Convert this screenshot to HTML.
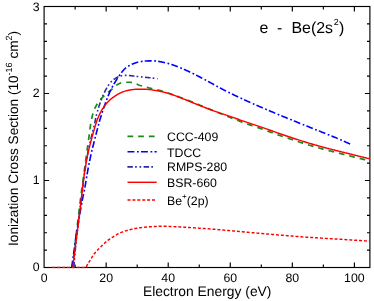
<!DOCTYPE html>
<html><head><meta charset="utf-8"><title>e - Be(2s2) ionization</title>
<style>html,body{margin:0;padding:0;overflow:hidden;background:#fff;font-family:"Liberation Sans",sans-serif}svg{display:block;will-change:transform}</style></head>
<body>
<svg width="374" height="301" viewBox="0 0 374 301">
<rect width="374" height="301" fill="#fff"/>
<g stroke="#000" stroke-width="1.15" fill="none">
<rect x="44.10" y="6.50" width="325.80" height="261.00"/>
<path d="M75.13,267.50 v-2.9 M75.13,6.50 v2.9"/>
<path d="M106.16,267.50 v-5.0 M106.16,6.50 v5.0"/>
<path d="M137.19,267.50 v-2.9 M137.19,6.50 v2.9"/>
<path d="M168.21,267.50 v-5.0 M168.21,6.50 v5.0"/>
<path d="M199.24,267.50 v-2.9 M199.24,6.50 v2.9"/>
<path d="M230.27,267.50 v-5.0 M230.27,6.50 v5.0"/>
<path d="M261.30,267.50 v-2.9 M261.30,6.50 v2.9"/>
<path d="M292.33,267.50 v-5.0 M292.33,6.50 v5.0"/>
<path d="M323.36,267.50 v-2.9 M323.36,6.50 v2.9"/>
<path d="M354.39,267.50 v-5.0 M354.39,6.50 v5.0"/>
<path d="M44.10,250.10 h2.9 M369.90,250.10 h-2.9"/>
<path d="M44.10,232.70 h2.9 M369.90,232.70 h-2.9"/>
<path d="M44.10,215.30 h2.9 M369.90,215.30 h-2.9"/>
<path d="M44.10,197.90 h2.9 M369.90,197.90 h-2.9"/>
<path d="M44.10,180.50 h5.0 M369.90,180.50 h-5.0"/>
<path d="M44.10,163.10 h2.9 M369.90,163.10 h-2.9"/>
<path d="M44.10,145.70 h2.9 M369.90,145.70 h-2.9"/>
<path d="M44.10,128.30 h2.9 M369.90,128.30 h-2.9"/>
<path d="M44.10,110.90 h2.9 M369.90,110.90 h-2.9"/>
<path d="M44.10,93.50 h5.0 M369.90,93.50 h-5.0"/>
<path d="M44.10,76.10 h2.9 M369.90,76.10 h-2.9"/>
<path d="M44.10,58.70 h2.9 M369.90,58.70 h-2.9"/>
<path d="M44.10,41.30 h2.9 M369.90,41.30 h-2.9"/>
<path d="M44.10,23.90 h2.9 M369.90,23.90 h-2.9"/>
</g>
<clipPath id="c"><rect x="44.50" y="6.80" width="325.50" height="261.70"/></clipPath>
<g clip-path="url(#c)" fill="none" stroke-linejoin="round">
<path d="M72.40,267.50 73.15,260.93 73.89,254.40 74.64,247.94 75.38,241.55 76.13,235.21 76.88,228.89 77.62,222.61 78.37,216.40 79.11,210.29 79.86,204.29 80.60,198.42 81.35,192.68 82.10,187.05 82.84,181.49 83.59,175.98 84.33,170.50 85.08,165.01 85.83,159.54 86.57,154.12 87.32,148.70 88.06,143.30 88.81,137.86 89.55,132.19 90.30,126.55 91.05,121.91 91.79,117.97 92.54,115.03 93.28,112.55 94.03,110.41 94.78,108.56 95.52,106.98 96.27,105.56 97.01,104.28 97.76,103.10 98.51,102.02 99.25,101.02 100.00,100.08 100.74,99.19 101.49,98.36 102.23,97.58 102.98,96.85 103.73,96.15 104.47,95.48 105.22,94.82 105.96,94.17 106.71,93.52 107.46,92.87 108.20,92.25 108.95,91.64 109.69,91.04 110.44,90.44 111.18,89.84 111.93,89.22 112.68,88.57 113.42,87.86 114.17,87.14 114.91,86.42 115.66,85.75 116.41,85.16 117.15,84.68 117.90,84.30 118.64,83.93 119.39,83.57 120.14,83.23 120.88,82.93 121.63,82.67 122.37,82.46 123.12,82.31 123.86,82.24 124.61,82.23 125.36,82.23 126.10,82.23 126.85,82.23 127.59,82.23 128.34,82.23 129.09,82.23 129.83,82.24 130.58,82.31 131.32,82.43 132.07,82.59 132.82,82.77 133.56,82.96 134.31,83.15 135.05,83.40 135.80,83.69 136.54,84.01 137.29,84.35 138.04,84.68 138.78,85.00 139.53,85.29 140.27,85.54 141.02,85.77 141.77,86.00 142.51,86.22 143.26,86.43 144.00,86.63 144.75,86.83 145.49,87.02 146.24,87.22 146.99,87.40 147.73,87.59 148.48,87.78 149.22,87.97 149.97,88.16 150.72,88.34 151.46,88.52 152.21,88.70 152.95,88.87 153.70,89.04 154.45,89.20 155.19,89.37 155.94,89.53 156.68,89.70 157.43,89.87 158.17,90.04 158.92,90.22 159.67,90.40 160.41,90.58 161.16,90.78 161.90,90.98 162.65,91.19 163.40,91.42 164.14,91.66 164.89,91.91 165.63,92.17 166.38,92.43 167.12,92.70 167.87,92.96 168.62,93.22 169.36,93.48 170.11,93.74 170.85,93.99 171.60,94.25 172.35,94.51 173.09,94.78 173.84,95.04 174.58,95.30 175.33,95.57 176.08,95.83 176.82,96.10 177.57,96.36 178.31,96.63 179.06,96.90 179.80,97.18 180.55,97.45 181.30,97.73 182.04,98.00 182.79,98.28 183.53,98.56 184.28,98.85 185.03,99.13 185.77,99.42 186.52,99.71 187.26,100.01 188.01,100.30 188.75,100.60 189.50,100.90 190.25,101.20 190.99,101.51 191.74,101.81 192.48,102.12 193.23,102.42 193.98,102.73 194.72,103.04 195.47,103.34 196.21,103.65 196.96,103.96 197.71,104.26 198.45,104.57 199.20,104.87 199.94,105.18 200.69,105.48 201.43,105.79 202.18,106.09 202.93,106.40 203.67,106.70 204.42,107.01 205.16,107.31 205.91,107.62 206.66,107.92 207.40,108.23 208.15,108.54 208.89,108.84 209.64,109.15 210.38,109.46 211.13,109.76 211.88,110.07 212.62,110.37 213.37,110.68 214.11,110.98 214.86,111.28 215.61,111.59 216.35,111.89 217.10,112.19 217.84,112.50 218.59,112.80 219.34,113.11 220.08,113.41 220.83,113.71 221.57,114.02 222.32,114.32 223.06,114.62 223.81,114.93 224.56,115.23 225.30,115.53 226.05,115.83 226.79,116.13 227.54,116.43 228.29,116.72 229.03,117.02 229.78,117.31 230.52,117.61 231.27,117.90 232.02,118.19 232.76,118.48 233.51,118.77 234.25,119.07 235.00,119.36 235.74,119.65 236.49,119.94 237.24,120.22 237.98,120.51 238.73,120.80 239.47,121.08 240.22,121.36 240.97,121.65 241.71,121.93 242.46,122.21 243.20,122.48 243.95,122.76 244.69,123.03 245.44,123.30 246.19,123.57 246.93,123.84 247.68,124.10 248.42,124.37 249.17,124.62 249.92,124.88 250.66,125.13 251.41,125.39 252.15,125.64 252.90,125.89 253.65,126.14 254.39,126.39 255.14,126.64 255.88,126.89 256.63,127.14 257.37,127.39 258.12,127.64 258.87,127.90 259.61,128.15 260.36,128.41 261.10,128.67 261.85,128.93 262.60,129.19 263.34,129.46 264.09,129.73 264.83,129.99 265.58,130.26 266.32,130.53 267.07,130.81 267.82,131.08 268.56,131.35 269.31,131.63 270.05,131.90 270.80,132.18 271.55,132.45 272.29,132.73 273.04,133.01 273.78,133.28 274.53,133.56 275.28,133.83 276.02,134.11 276.77,134.38 277.51,134.65 278.26,134.93 279.00,135.20 279.75,135.47 280.50,135.74 281.24,136.00 281.99,136.27 282.73,136.53 283.48,136.79 284.23,137.05 284.97,137.31 285.72,137.56 286.46,137.81 287.21,138.06 287.95,138.31 288.70,138.56 289.45,138.81 290.19,139.06 290.94,139.31 291.68,139.56 292.43,139.80 293.18,140.05 293.92,140.29 294.67,140.54 295.41,140.78 296.16,141.02 296.91,141.26 297.65,141.50 298.40,141.74 299.14,141.98 299.89,142.22 300.63,142.46 301.38,142.70 302.13,142.93 302.87,143.17 303.62,143.40 304.36,143.63 305.11,143.86 305.86,144.09 306.60,144.32 307.35,144.55 308.09,144.78 308.84,145.01 309.58,145.23 310.33,145.46 311.08,145.68 311.82,145.90 312.57,146.12 313.31,146.34 314.06,146.56 314.81,146.78 315.55,146.99 316.30,147.21 317.04,147.42 317.79,147.63 318.54,147.84 319.28,148.05 320.03,148.26 320.77,148.46 321.52,148.67 322.26,148.87 323.01,149.07 323.76,149.27 324.50,149.47 325.25,149.67 325.99,149.87 326.74,150.07 327.49,150.26 328.23,150.46 328.98,150.65 329.72,150.85 330.47,151.04 331.22,151.23 331.96,151.42 332.71,151.61 333.45,151.80 334.20,151.99 334.94,152.18 335.69,152.37 336.44,152.56 337.18,152.75 337.93,152.93 338.67,153.12 339.42,153.31 340.17,153.50 340.91,153.68 341.66,153.87 342.40,154.06 343.15,154.24 343.89,154.43 344.64,154.62 345.39,154.80 346.13,154.99 346.88,155.18 347.62,155.37 348.37,155.55 349.12,155.74 349.86,155.93 350.61,156.12 351.35,156.31 352.10,156.50 352.85,156.69 353.59,156.88 354.34,157.06 355.08,157.25 355.83,157.44 356.57,157.63 357.32,157.81 358.07,158.00 358.81,158.19 359.56,158.37 360.30,158.56 361.05,158.75 361.80,158.93 362.54,159.12 363.29,159.30 364.03,159.49 364.78,159.67 365.52,159.86 366.27,160.04 367.02,160.23 367.76,160.41 368.51,160.59 369.25,160.78 370.00,160.96" stroke="#1a8a1a" stroke-width="1.7" stroke-dasharray="5.7 5"/>
<path d="M71.62,267.50 72.32,262.85 73.02,258.04 73.72,253.08 74.42,248.00 75.12,242.68 75.82,237.21 76.52,232.64 77.22,228.53 77.92,224.66 78.62,220.81 79.32,216.84 80.02,212.86 80.72,208.90 81.42,205.03 82.12,201.26 82.82,197.67 83.52,194.31 84.22,190.95 84.92,187.35 85.62,183.33 86.32,179.07 87.02,174.79 87.72,170.74 88.42,167.01 89.12,163.44 89.82,160.01 90.52,156.72 91.21,153.58 91.91,150.63 92.61,147.80 93.31,145.04 94.01,142.27 94.71,139.48 95.41,136.70 96.11,133.95 96.81,131.24 97.51,128.59 98.21,125.95 98.91,123.35 99.61,120.83 100.31,118.43 101.01,116.16 101.71,113.98 102.41,111.87 103.11,109.80 103.81,107.75 104.51,105.71 105.21,103.70 105.91,101.74 106.61,99.85 107.31,98.04 108.01,96.29 108.71,94.60 109.41,92.98 110.11,91.44 110.80,89.97 111.50,88.57 112.20,87.22 112.90,85.92 113.60,84.66 114.30,83.44 115.00,82.27 115.70,81.13 116.40,80.02 117.10,78.92 117.80,77.84 118.50,76.79 119.20,75.78 119.90,74.80 120.60,73.86 121.30,72.94 122.00,72.01 122.70,71.11 123.40,70.26 124.10,69.47 124.80,68.76 125.50,68.17 126.20,67.64 126.90,67.14 127.60,66.67 128.30,66.22 129.00,65.80 129.69,65.41 130.39,65.03 131.09,64.69 131.79,64.36 132.49,64.05 133.19,63.77 133.89,63.50 134.59,63.25 135.29,63.01 135.99,62.78 136.69,62.56 137.39,62.35 138.09,62.16 138.79,61.99 139.49,61.84 140.19,61.70 140.89,61.59 141.59,61.48 142.29,61.37 142.99,61.27 143.69,61.18 144.39,61.10 145.09,61.04 145.79,60.98 146.49,60.95 147.19,60.93 147.89,60.91 148.59,60.90 149.28,60.89 149.98,60.87 150.68,60.87 151.38,60.86 152.08,60.85 152.78,60.85 153.48,60.86 154.18,60.88 154.88,60.92 155.58,60.98 156.28,61.05 156.98,61.13 157.68,61.23 158.38,61.34 159.08,61.46 159.78,61.59 160.48,61.72 161.18,61.86 161.88,62.01 162.58,62.16 163.28,62.31 163.98,62.46 164.68,62.61 165.38,62.76 166.08,62.91 166.78,63.08 167.48,63.25 168.17,63.44 168.87,63.63 169.57,63.84 170.27,64.06 170.97,64.28 171.67,64.51 172.37,64.75 173.07,65.00 173.77,65.25 174.47,65.51 175.17,65.78 175.87,66.05 176.57,66.33 177.27,66.61 177.97,66.89 178.67,67.18 179.37,67.47 180.07,67.76 180.77,68.05 181.47,68.35 182.17,68.64 182.87,68.94 183.57,69.23 184.27,69.53 184.97,69.82 185.67,70.11 186.37,70.41 187.07,70.72 187.76,71.03 188.46,71.35 189.16,71.68 189.86,72.00 190.56,72.34 191.26,72.67 191.96,73.01 192.66,73.36 193.36,73.71 194.06,74.06 194.76,74.41 195.46,74.77 196.16,75.12 196.86,75.48 197.56,75.85 198.26,76.21 198.96,76.57 199.66,76.94 200.36,77.30 201.06,77.67 201.76,78.03 202.46,78.40 203.16,78.76 203.86,79.12 204.56,79.48 205.26,79.85 205.96,80.22 206.65,80.59 207.35,80.97 208.05,81.35 208.75,81.73 209.45,82.11 210.15,82.50 210.85,82.88 211.55,83.27 212.25,83.66 212.95,84.05 213.65,84.44 214.35,84.83 215.05,85.22 215.75,85.61 216.45,85.99 217.15,86.38 217.85,86.76 218.55,87.15 219.25,87.53 219.95,87.90 220.65,88.28 221.35,88.65 222.05,89.02 222.75,89.38 223.45,89.74 224.15,90.10 224.85,90.45 225.55,90.81 226.24,91.16 226.94,91.51 227.64,91.86 228.34,92.20 229.04,92.55 229.74,92.89 230.44,93.24 231.14,93.58 231.84,93.92 232.54,94.26 233.24,94.59 233.94,94.93 234.64,95.27 235.34,95.60 236.04,95.93 236.74,96.26 237.44,96.59 238.14,96.92 238.84,97.25 239.54,97.58 240.24,97.91 240.94,98.23 241.64,98.56 242.34,98.88 243.04,99.21 243.74,99.53 244.44,99.85 245.13,100.17 245.83,100.49 246.53,100.80 247.23,101.12 247.93,101.43 248.63,101.75 249.33,102.06 250.03,102.37 250.73,102.68 251.43,102.99 252.13,103.30 252.83,103.61 253.53,103.92 254.23,104.22 254.93,104.53 255.63,104.83 256.33,105.14 257.03,105.44 257.73,105.75 258.43,106.05 259.13,106.36 259.83,106.66 260.53,106.96 261.23,107.26 261.93,107.57 262.63,107.87 263.33,108.17 264.03,108.47 264.72,108.77 265.42,109.07 266.12,109.37 266.82,109.66 267.52,109.96 268.22,110.26 268.92,110.56 269.62,110.85 270.32,111.15 271.02,111.44 271.72,111.74 272.42,112.03 273.12,112.33 273.82,112.62 274.52,112.92 275.22,113.21 275.92,113.50 276.62,113.80 277.32,114.09 278.02,114.38 278.72,114.67 279.42,114.96 280.12,115.25 280.82,115.55 281.52,115.84 282.22,116.13 282.92,116.42 283.61,116.70 284.31,116.99 285.01,117.28 285.71,117.57 286.41,117.86 287.11,118.15 287.81,118.43 288.51,118.72 289.21,119.00 289.91,119.29 290.61,119.57 291.31,119.86 292.01,120.14 292.71,120.42 293.41,120.71 294.11,120.99 294.81,121.27 295.51,121.55 296.21,121.83 296.91,122.11 297.61,122.39 298.31,122.67 299.01,122.95 299.71,123.23 300.41,123.51 301.11,123.79 301.81,124.07 302.51,124.35 303.20,124.63 303.90,124.91 304.60,125.18 305.30,125.46 306.00,125.74 306.70,126.02 307.40,126.30 308.10,126.58 308.80,126.86 309.50,127.13 310.20,127.41 310.90,127.69 311.60,127.97 312.30,128.25 313.00,128.53 313.70,128.81 314.40,129.09 315.10,129.37 315.80,129.65 316.50,129.93 317.20,130.22 317.90,130.50 318.60,130.78 319.30,131.06 320.00,131.34 320.70,131.62 321.40,131.90 322.09,132.18 322.79,132.46 323.49,132.74 324.19,133.02 324.89,133.30 325.59,133.58 326.29,133.85 326.99,134.13 327.69,134.41 328.39,134.69 329.09,134.97 329.79,135.25 330.49,135.54 331.19,135.82 331.89,136.10 332.59,136.39 333.29,136.67 333.99,136.96 334.69,137.25 335.39,137.54 336.09,137.83 336.79,138.12 337.49,138.42 338.19,138.71 338.89,139.01 339.59,139.31 340.29,139.62 340.99,139.92 341.68,140.23 342.38,140.54 343.08,140.85 343.78,141.16 344.48,141.47 345.18,141.79 345.88,142.11 346.58,142.43 347.28,142.75 347.98,143.07 348.68,143.39 349.38,143.71 350.08,144.04 350.78,144.36" stroke="#0000ff" stroke-width="1.6" stroke-dasharray="6.9 2.6 1.8 2.2"/>
<path d="M73.80,267.50 74.01,264.86 74.22,262.26 74.43,259.72 74.64,257.25 74.85,254.85 75.06,252.50 75.27,250.18 75.48,247.90 75.69,245.67 75.90,243.50 76.11,241.42 76.32,239.42 76.53,237.53 76.74,235.73 76.95,234.02 77.16,232.37 77.37,230.77 77.58,229.20 77.79,227.65 78.00,226.09 78.21,224.50 78.42,222.88 78.63,221.21 78.84,219.50 79.05,217.76 79.26,216.00 79.47,214.23 79.68,212.44 79.89,210.65 80.10,208.85 80.31,207.05 80.52,205.25 80.73,203.46 80.94,201.68 81.15,199.91 81.36,198.16 81.57,196.42 81.78,194.71 81.99,193.00 82.20,191.27 82.41,189.54 82.62,187.82 82.83,186.09 83.04,184.38 83.25,182.68 83.46,181.00 83.67,179.35 83.88,177.72 84.09,176.12 84.30,174.56 84.51,173.04 84.72,171.57 84.93,170.13 85.14,168.72 85.35,167.33 85.56,165.97 85.77,164.62 85.98,163.30 86.19,162.00 86.40,160.72 86.61,159.47 86.83,158.24 87.04,157.03 87.25,155.86 87.46,154.70 87.67,153.58 87.88,152.48 88.09,151.41 88.30,150.37 88.51,149.36 88.72,148.37 88.93,147.40 89.14,146.45 89.35,145.52 89.56,144.60 89.77,143.69 89.98,142.79 90.19,141.90 90.40,141.01 90.61,140.12 90.82,139.23 91.03,138.33 91.24,137.45 91.45,136.58 91.66,135.72 91.87,134.87 92.08,134.03 92.29,133.19 92.50,132.36 92.71,131.52 92.92,130.69 93.13,129.85 93.34,129.00 93.55,128.15 93.76,127.28 93.97,126.40 94.18,125.51 94.39,124.58 94.60,123.62 94.81,122.65 95.02,121.66 95.23,120.67 95.44,119.68 95.65,118.70 95.86,117.73 96.07,116.78 96.28,115.87 96.49,114.99 96.70,114.16 96.91,113.36 97.12,112.59 97.33,111.82 97.54,111.08 97.75,110.35 97.96,109.63 98.17,108.93 98.38,108.24 98.59,107.57 98.80,106.90 99.01,106.25 99.22,105.61 99.43,104.98 99.65,104.35 99.86,103.74 100.07,103.13 100.28,102.53 100.49,101.93 100.70,101.34 100.91,100.76 101.12,100.19 101.33,99.63 101.54,99.07 101.75,98.52 101.96,97.99 102.17,97.46 102.38,96.94 102.59,96.43 102.80,95.93 103.01,95.45 103.22,94.97 103.43,94.51 103.64,94.05 103.85,93.60 104.06,93.16 104.27,92.72 104.48,92.29 104.69,91.87 104.90,91.45 105.11,91.04 105.32,90.63 105.53,90.23 105.74,89.83 105.95,89.45 106.16,89.06 106.37,88.69 106.58,88.31 106.79,87.95 107.00,87.59 107.21,87.23 107.42,86.89 107.63,86.54 107.84,86.21 108.05,85.88 108.26,85.55 108.47,85.23 108.68,84.90 108.89,84.59 109.10,84.28 109.31,83.97 109.52,83.68 109.73,83.39 109.94,83.11 110.15,82.84 110.36,82.59 110.57,82.34 110.78,82.11 110.99,81.90 111.20,81.68 111.41,81.48 111.62,81.28 111.83,81.08 112.04,80.89 112.25,80.70 112.46,80.52 112.68,80.35 112.89,80.18 113.10,80.01 113.31,79.85 113.52,79.69 113.73,79.53 113.94,79.38 114.15,79.23 114.36,79.09 114.57,78.95 114.78,78.81 114.99,78.68 115.20,78.54 115.41,78.41 115.62,78.27 115.83,78.14 116.04,78.00 116.25,77.87 116.46,77.73 116.67,77.60 116.88,77.47 117.09,77.35 117.30,77.22 117.51,77.10 117.72,76.99 117.93,76.88 118.14,76.77 118.35,76.67 118.56,76.57 118.77,76.48 118.98,76.39 119.19,76.32 119.40,76.25 119.61,76.18 119.82,76.13 120.03,76.08 120.24,76.04 120.45,76.00 120.66,75.97 120.87,75.93 121.08,75.90 121.29,75.86 121.50,75.83 121.71,75.79 121.92,75.76 122.13,75.73 122.34,75.70 122.55,75.67 122.76,75.64 122.97,75.62 123.18,75.59 123.39,75.56 123.60,75.54 123.81,75.52 124.02,75.50 124.23,75.48 124.44,75.46 124.65,75.44 124.86,75.43 125.07,75.41 125.28,75.40 125.50,75.39 125.71,75.38 125.92,75.38 126.13,75.37 126.34,75.37 126.55,75.36 126.76,75.36 126.97,75.37 127.18,75.37 127.39,75.38 127.60,75.39 127.81,75.40 128.02,75.41 128.23,75.42 128.44,75.44 128.65,75.45 128.86,75.47 129.07,75.49 129.28,75.51 129.49,75.54 129.70,75.56 129.91,75.58 130.12,75.61 130.33,75.63 130.54,75.66 130.75,75.68 130.96,75.71 131.17,75.74 131.38,75.76 131.59,75.79 131.80,75.82 132.01,75.85 132.22,75.87 132.43,75.90 132.64,75.93 132.85,75.95 133.06,75.98 133.27,76.00 133.48,76.03 133.69,76.05 133.90,76.07 134.11,76.09 134.32,76.12 134.53,76.14 134.74,76.16 134.95,76.19 135.16,76.21 135.37,76.23 135.58,76.26 135.79,76.28 136.00,76.31 136.21,76.33 136.42,76.36 136.63,76.38 136.84,76.41 137.05,76.43 137.26,76.46 137.47,76.48 137.68,76.51 137.89,76.53 138.10,76.55 138.32,76.58 138.53,76.60 138.74,76.63 138.95,76.65 139.16,76.68 139.37,76.70 139.58,76.73 139.79,76.75 140.00,76.77 140.21,76.80 140.42,76.82 140.63,76.84 140.84,76.87 141.05,76.89 141.26,76.91 141.47,76.94 141.68,76.96 141.89,76.98 142.10,77.00 142.31,77.02 142.52,77.04 142.73,77.07 142.94,77.09 143.15,77.11 143.36,77.13 143.57,77.15 143.78,77.17 143.99,77.19 144.20,77.21 144.41,77.23 144.62,77.26 144.83,77.28 145.04,77.30 145.25,77.32 145.46,77.34 145.67,77.36 145.88,77.38 146.09,77.40 146.30,77.42 146.51,77.44 146.72,77.46 146.93,77.48 147.14,77.50 147.35,77.52 147.56,77.54 147.77,77.56 147.98,77.59 148.19,77.61 148.40,77.63 148.61,77.65 148.82,77.67 149.03,77.69 149.24,77.71 149.45,77.73 149.66,77.76 149.87,77.78 150.08,77.80 150.29,77.82 150.50,77.84 150.71,77.87 150.92,77.89 151.13,77.91 151.35,77.93 151.56,77.96 151.77,77.98 151.98,78.00 152.19,78.03 152.40,78.05 152.61,78.07 152.82,78.10 153.03,78.12 153.24,78.15 153.45,78.17 153.66,78.20 153.87,78.22 154.08,78.25 154.29,78.28 154.50,78.30 154.71,78.33 154.92,78.36 155.13,78.39 155.34,78.42 155.55,78.45 155.76,78.48 155.97,78.51 156.18,78.54 156.39,78.57 156.60,78.60 156.81,78.63 157.02,78.66 157.23,78.69 157.44,78.72 157.65,78.75" stroke="#2c2ca4" stroke-width="1.6" stroke-dasharray="5.5 2.2 1.7 2.7 1.7 2.4"/>
<path d="M72.87,267.50 73.61,261.26 74.35,255.10 75.10,249.01 75.84,243.03 76.59,237.21 77.33,231.45 78.08,225.62 78.82,219.62 79.57,213.38 80.31,207.02 81.06,200.70 81.80,194.55 82.55,188.39 83.29,182.26 84.04,176.44 84.78,171.17 85.52,166.46 86.27,162.09 87.01,158.05 87.76,154.33 88.50,150.93 89.25,147.83 89.99,144.91 90.74,142.06 91.48,139.22 92.23,136.42 92.97,133.71 93.72,131.08 94.46,128.54 95.21,126.03 95.95,123.61 96.70,121.35 97.44,119.31 98.18,117.44 98.93,115.69 99.67,114.08 100.42,112.59 101.16,111.22 101.91,109.94 102.65,108.74 103.40,107.61 104.14,106.52 104.89,105.48 105.63,104.50 106.38,103.58 107.12,102.72 107.87,101.92 108.61,101.17 109.36,100.45 110.10,99.76 110.84,99.10 111.59,98.47 112.33,97.88 113.08,97.33 113.82,96.80 114.57,96.29 115.31,95.79 116.06,95.32 116.80,94.86 117.55,94.43 118.29,94.02 119.04,93.63 119.78,93.26 120.53,92.90 121.27,92.55 122.02,92.22 122.76,91.90 123.50,91.61 124.25,91.35 124.99,91.12 125.74,90.92 126.48,90.73 127.23,90.54 127.97,90.38 128.72,90.22 129.46,90.08 130.21,89.95 130.95,89.84 131.70,89.74 132.44,89.63 133.19,89.53 133.93,89.44 134.68,89.35 135.42,89.28 136.16,89.22 136.91,89.19 137.65,89.18 138.40,89.18 139.14,89.19 139.89,89.19 140.63,89.20 141.38,89.22 142.12,89.23 142.87,89.25 143.61,89.26 144.36,89.28 145.10,89.30 145.85,89.32 146.59,89.35 147.33,89.38 148.08,89.42 148.82,89.49 149.57,89.56 150.31,89.65 151.06,89.75 151.80,89.86 152.55,89.98 153.29,90.10 154.04,90.22 154.78,90.35 155.53,90.48 156.27,90.60 157.02,90.73 157.76,90.86 158.51,91.01 159.25,91.15 159.99,91.31 160.74,91.47 161.48,91.64 162.23,91.81 162.97,91.98 163.72,92.17 164.46,92.35 165.21,92.54 165.95,92.74 166.70,92.94 167.44,93.14 168.19,93.35 168.93,93.56 169.68,93.78 170.42,94.02 171.17,94.26 171.91,94.51 172.65,94.77 173.40,95.03 174.14,95.31 174.89,95.58 175.63,95.87 176.38,96.16 177.12,96.45 177.87,96.74 178.61,97.04 179.36,97.33 180.10,97.63 180.85,97.93 181.59,98.23 182.34,98.52 183.08,98.82 183.83,99.11 184.57,99.40 185.31,99.69 186.06,99.98 186.80,100.28 187.55,100.58 188.29,100.88 189.04,101.18 189.78,101.48 190.53,101.79 191.27,102.10 192.02,102.40 192.76,102.71 193.51,103.01 194.25,103.32 195.00,103.62 195.74,103.93 196.49,104.23 197.23,104.53 197.97,104.83 198.72,105.12 199.46,105.42 200.21,105.71 200.95,106.00 201.70,106.29 202.44,106.59 203.19,106.88 203.93,107.17 204.68,107.46 205.42,107.75 206.17,108.04 206.91,108.32 207.66,108.61 208.40,108.89 209.14,109.18 209.89,109.46 210.63,109.74 211.38,110.02 212.12,110.29 212.87,110.57 213.61,110.84 214.36,111.11 215.10,111.38 215.85,111.64 216.59,111.90 217.34,112.16 218.08,112.41 218.83,112.67 219.57,112.92 220.32,113.17 221.06,113.41 221.80,113.66 222.55,113.91 223.29,114.15 224.04,114.40 224.78,114.64 225.53,114.89 226.27,115.13 227.02,115.38 227.76,115.63 228.51,115.88 229.25,116.13 230.00,116.38 230.74,116.64 231.49,116.90 232.23,117.16 232.98,117.42 233.72,117.68 234.46,117.94 235.21,118.21 235.95,118.48 236.70,118.74 237.44,119.01 238.19,119.28 238.93,119.54 239.68,119.81 240.42,120.07 241.17,120.34 241.91,120.60 242.66,120.87 243.40,121.13 244.15,121.39 244.89,121.65 245.64,121.90 246.38,122.16 247.12,122.41 247.87,122.66 248.61,122.91 249.36,123.16 250.10,123.40 250.85,123.65 251.59,123.89 252.34,124.13 253.08,124.38 253.83,124.62 254.57,124.86 255.32,125.10 256.06,125.35 256.81,125.59 257.55,125.84 258.30,126.08 259.04,126.33 259.78,126.58 260.53,126.83 261.27,127.08 262.02,127.33 262.76,127.59 263.51,127.85 264.25,128.11 265.00,128.37 265.74,128.63 266.49,128.90 267.23,129.16 267.98,129.43 268.72,129.70 269.47,129.97 270.21,130.24 270.95,130.51 271.70,130.78 272.44,131.05 273.19,131.32 273.93,131.59 274.68,131.86 275.42,132.12 276.17,132.39 276.91,132.66 277.66,132.93 278.40,133.20 279.15,133.46 279.89,133.73 280.64,133.99 281.38,134.25 282.13,134.51 282.87,134.77 283.61,135.03 284.36,135.28 285.10,135.53 285.85,135.78 286.59,136.03 287.34,136.28 288.08,136.52 288.83,136.77 289.57,137.02 290.32,137.26 291.06,137.50 291.81,137.75 292.55,137.99 293.30,138.23 294.04,138.48 294.79,138.72 295.53,138.96 296.27,139.20 297.02,139.44 297.76,139.67 298.51,139.91 299.25,140.15 300.00,140.38 300.74,140.62 301.49,140.85 302.23,141.09 302.98,141.32 303.72,141.55 304.47,141.78 305.21,142.01 305.96,142.24 306.70,142.47 307.45,142.69 308.19,142.92 308.93,143.14 309.68,143.37 310.42,143.59 311.17,143.81 311.91,144.03 312.66,144.25 313.40,144.46 314.15,144.68 314.89,144.89 315.64,145.11 316.38,145.32 317.13,145.53 317.87,145.74 318.62,145.95 319.36,146.15 320.11,146.36 320.85,146.56 321.59,146.76 322.34,146.97 323.08,147.17 323.83,147.37 324.57,147.56 325.32,147.76 326.06,147.96 326.81,148.15 327.55,148.34 328.30,148.54 329.04,148.73 329.79,148.92 330.53,149.11 331.28,149.30 332.02,149.49 332.77,149.68 333.51,149.87 334.25,150.05 335.00,150.24 335.74,150.43 336.49,150.61 337.23,150.80 337.98,150.98 338.72,151.17 339.47,151.35 340.21,151.54 340.96,151.72 341.70,151.91 342.45,152.09 343.19,152.28 343.94,152.46 344.68,152.65 345.42,152.83 346.17,153.01 346.91,153.20 347.66,153.38 348.40,153.57 349.15,153.76 349.89,153.94 350.64,154.13 351.38,154.31 352.13,154.50 352.87,154.69 353.62,154.87 354.36,155.06 355.11,155.24 355.85,155.42 356.60,155.61 357.34,155.79 358.08,155.97 358.83,156.16 359.57,156.34 360.32,156.52 361.06,156.71 361.81,156.89 362.55,157.07 363.30,157.25 364.04,157.43 364.79,157.61 365.53,157.79 366.28,157.97 367.02,158.16 367.77,158.34 368.51,158.52 369.26,158.70 370.00,158.88" stroke="#ff0000" stroke-width="1.45"/>
<path d="M52.25,267.50 L85.73,267.50 86.44,266.32 87.15,265.15 87.87,263.98 88.58,262.83 89.29,261.67 90.00,260.51 90.72,259.31 91.43,258.12 92.14,256.94 92.85,255.81 93.57,254.75 94.28,253.80 94.99,252.92 95.70,252.09 96.42,251.30 97.13,250.54 97.84,249.80 98.55,249.09 99.27,248.38 99.98,247.66 100.69,246.94 101.40,246.22 102.12,245.50 102.83,244.79 103.54,244.09 104.25,243.41 104.97,242.75 105.68,242.12 106.39,241.52 107.10,240.95 107.82,240.41 108.53,239.88 109.24,239.38 109.95,238.89 110.67,238.41 111.38,237.94 112.09,237.48 112.80,237.02 113.52,236.56 114.23,236.10 114.94,235.65 115.65,235.20 116.37,234.77 117.08,234.36 117.79,233.98 118.50,233.62 119.22,233.29 119.93,232.98 120.64,232.68 121.35,232.40 122.07,232.12 122.78,231.85 123.49,231.59 124.20,231.35 124.92,231.11 125.63,230.88 126.34,230.66 127.05,230.45 127.76,230.25 128.48,230.06 129.19,229.87 129.90,229.69 130.61,229.51 131.33,229.34 132.04,229.18 132.75,229.02 133.46,228.86 134.18,228.72 134.89,228.58 135.60,228.45 136.31,228.32 137.03,228.21 137.74,228.10 138.45,227.99 139.16,227.89 139.88,227.79 140.59,227.69 141.30,227.60 142.01,227.51 142.73,227.42 143.44,227.33 144.15,227.25 144.86,227.17 145.58,227.10 146.29,227.03 147.00,226.96 147.71,226.90 148.43,226.85 149.14,226.79 149.85,226.75 150.56,226.70 151.28,226.66 151.99,226.62 152.70,226.57 153.41,226.53 154.13,226.49 154.84,226.45 155.55,226.42 156.26,226.38 156.98,226.35 157.69,226.32 158.40,226.29 159.11,226.27 159.83,226.25 160.54,226.24 161.25,226.23 161.96,226.22 162.68,226.22 163.39,226.23 164.10,226.24 164.81,226.25 165.53,226.27 166.24,226.29 166.95,226.31 167.66,226.34 168.37,226.37 169.09,226.40 169.80,226.43 170.51,226.46 171.22,226.50 171.94,226.53 172.65,226.56 173.36,226.60 174.07,226.63 174.79,226.66 175.50,226.69 176.21,226.73 176.92,226.76 177.64,226.80 178.35,226.84 179.06,226.87 179.77,226.91 180.49,226.96 181.20,227.00 181.91,227.04 182.62,227.08 183.34,227.13 184.05,227.17 184.76,227.22 185.47,227.27 186.19,227.31 186.90,227.36 187.61,227.41 188.32,227.45 189.04,227.50 189.75,227.55 190.46,227.60 191.17,227.65 191.89,227.69 192.60,227.74 193.31,227.79 194.02,227.83 194.74,227.88 195.45,227.93 196.16,227.98 196.87,228.03 197.59,228.07 198.30,228.12 199.01,228.17 199.72,228.22 200.44,228.27 201.15,228.32 201.86,228.37 202.57,228.42 203.29,228.47 204.00,228.52 204.71,228.57 205.42,228.62 206.14,228.68 206.85,228.73 207.56,228.78 208.27,228.83 208.98,228.89 209.70,228.94 210.41,228.99 211.12,229.05 211.83,229.10 212.55,229.16 213.26,229.21 213.97,229.27 214.68,229.33 215.40,229.38 216.11,229.44 216.82,229.50 217.53,229.56 218.25,229.62 218.96,229.68 219.67,229.74 220.38,229.80 221.10,229.86 221.81,229.92 222.52,229.98 223.23,230.05 223.95,230.11 224.66,230.17 225.37,230.24 226.08,230.30 226.80,230.37 227.51,230.43 228.22,230.50 228.93,230.56 229.65,230.63 230.36,230.69 231.07,230.76 231.78,230.82 232.50,230.89 233.21,230.95 233.92,231.01 234.63,231.08 235.35,231.14 236.06,231.21 236.77,231.27 237.48,231.33 238.20,231.40 238.91,231.46 239.62,231.52 240.33,231.59 241.05,231.65 241.76,231.71 242.47,231.78 243.18,231.84 243.90,231.91 244.61,231.97 245.32,232.04 246.03,232.10 246.75,232.16 247.46,232.23 248.17,232.29 248.88,232.36 249.59,232.42 250.31,232.49 251.02,232.55 251.73,232.61 252.44,232.68 253.16,232.74 253.87,232.81 254.58,232.87 255.29,232.93 256.01,233.00 256.72,233.06 257.43,233.12 258.14,233.19 258.86,233.25 259.57,233.31 260.28,233.38 260.99,233.44 261.71,233.50 262.42,233.56 263.13,233.62 263.84,233.68 264.56,233.75 265.27,233.81 265.98,233.87 266.69,233.93 267.41,233.99 268.12,234.05 268.83,234.11 269.54,234.17 270.26,234.24 270.97,234.30 271.68,234.36 272.39,234.42 273.11,234.48 273.82,234.54 274.53,234.60 275.24,234.66 275.96,234.73 276.67,234.79 277.38,234.85 278.09,234.91 278.81,234.97 279.52,235.03 280.23,235.09 280.94,235.15 281.66,235.21 282.37,235.27 283.08,235.33 283.79,235.39 284.51,235.45 285.22,235.51 285.93,235.57 286.64,235.63 287.36,235.69 288.07,235.75 288.78,235.80 289.49,235.86 290.20,235.92 290.92,235.98 291.63,236.04 292.34,236.09 293.05,236.15 293.77,236.21 294.48,236.26 295.19,236.32 295.90,236.37 296.62,236.43 297.33,236.48 298.04,236.54 298.75,236.59 299.47,236.65 300.18,236.70 300.89,236.75 301.60,236.80 302.32,236.86 303.03,236.91 303.74,236.96 304.45,237.01 305.17,237.06 305.88,237.11 306.59,237.16 307.30,237.21 308.02,237.26 308.73,237.31 309.44,237.36 310.15,237.40 310.87,237.45 311.58,237.50 312.29,237.54 313.00,237.59 313.72,237.64 314.43,237.68 315.14,237.73 315.85,237.77 316.57,237.82 317.28,237.86 317.99,237.91 318.70,237.95 319.42,238.00 320.13,238.04 320.84,238.09 321.55,238.13 322.27,238.17 322.98,238.22 323.69,238.26 324.40,238.30 325.12,238.35 325.83,238.39 326.54,238.43 327.25,238.48 327.97,238.52 328.68,238.56 329.39,238.61 330.10,238.65 330.81,238.69 331.53,238.73 332.24,238.78 332.95,238.82 333.66,238.86 334.38,238.91 335.09,238.95 335.80,238.99 336.51,239.04 337.23,239.08 337.94,239.12 338.65,239.17 339.36,239.21 340.08,239.26 340.79,239.30 341.50,239.34 342.21,239.39 342.93,239.43 343.64,239.48 344.35,239.52 345.06,239.57 345.78,239.61 346.49,239.66 347.20,239.70 347.91,239.75 348.63,239.80 349.34,239.84 350.05,239.89 350.76,239.93 351.48,239.98 352.19,240.02 352.90,240.07 353.61,240.11 354.33,240.16 355.04,240.21 355.75,240.25 356.46,240.30 357.18,240.34 357.89,240.39 358.60,240.43 359.31,240.48 360.03,240.53 360.74,240.57 361.45,240.62 362.16,240.66 362.88,240.71 363.59,240.76 364.30,240.80 365.01,240.85 365.73,240.89 366.44,240.94 367.15,240.99 367.86,241.03 368.58,241.08 369.29,241.12 370.00,241.17" stroke="#ff0000" stroke-width="1.45" stroke-dasharray="3 1.9"/>
</g>
<g font-family="'Liberation Sans', sans-serif" fill="#000" text-rendering="geometricPrecision">
<text x="44.10" y="281.5" font-size="12.3" text-anchor="middle">0</text>
<text x="106.16" y="281.5" font-size="12.3" text-anchor="middle">20</text>
<text x="168.21" y="281.5" font-size="12.3" text-anchor="middle">40</text>
<text x="230.27" y="281.5" font-size="12.3" text-anchor="middle">60</text>
<text x="292.33" y="281.5" font-size="12.3" text-anchor="middle">80</text>
<text x="354.39" y="281.5" font-size="12.3" text-anchor="middle">100</text>
<text font-size="12.3" text-anchor="end"><tspan x="39.5" y="10.80">3</tspan><tspan x="39.5" y="97.00">2</tspan><tspan x="39.5" y="184.00">1</tspan><tspan x="39.5" y="271.00">0</tspan></text>
<text x="207.2" y="296.2" font-size="13.85" text-anchor="middle">Electron Energy (eV)</text>
<text transform="translate(18.3,246) rotate(-90)" font-size="13.65">Ionization Cross Section (10<tspan font-size="9" dy="-6">-16</tspan><tspan dy="6"> cm</tspan><tspan font-size="9" dy="-6">2</tspan><tspan dy="6">)</tspan></text>
<text x="259.4" y="33.2" font-size="15.9">e</text>
<text x="276.9" y="33.2" font-size="15.9">-</text>
<text x="291.5" y="33.2" font-size="15.9">Be(2s<tspan font-size="8.9" dy="-8.3" dx="0.7">2</tspan><tspan dy="8.3" dx="0.3">)</tspan></text>
<text x="167" y="141.00" font-size="12.3">CCC-409</text>
<text x="167" y="156.50" font-size="12.3">TDCC</text>
<text x="167" y="171.40" font-size="12.3">RMPS-280</text>
<text x="167" y="187.00" font-size="12.3">BSR-660</text>
<text x="167" y="204.6" font-size="12.3">Be<tspan font-size="8" dy="-5.5">+</tspan><tspan dy="5.5">(2p)</tspan></text>
</g>
<g fill="none">
<path d="M127.5,136.3 H156.7" stroke="#1a8a1a" stroke-width="1.7" stroke-dasharray="5.7 5"/>
<path d="M127.5,151.7 H156.7" stroke="#0000ff" stroke-width="1.6" stroke-dasharray="6.9 2.6 1.8 2.2"/>
<path d="M127.4,166.9 H155.5" stroke="#2c2ca4" stroke-width="1.6" stroke-dasharray="5.5 2.2 1.7 2.7 1.7 2.4"/>
<path d="M127.5,182.3 H156.7" stroke="#ff0000" stroke-width="1.45"/>
<path d="M127.5,199.9 H156.7" stroke="#ff0000" stroke-width="1.45" stroke-dasharray="3 1.9"/>
</g>
</svg>
</body></html>
